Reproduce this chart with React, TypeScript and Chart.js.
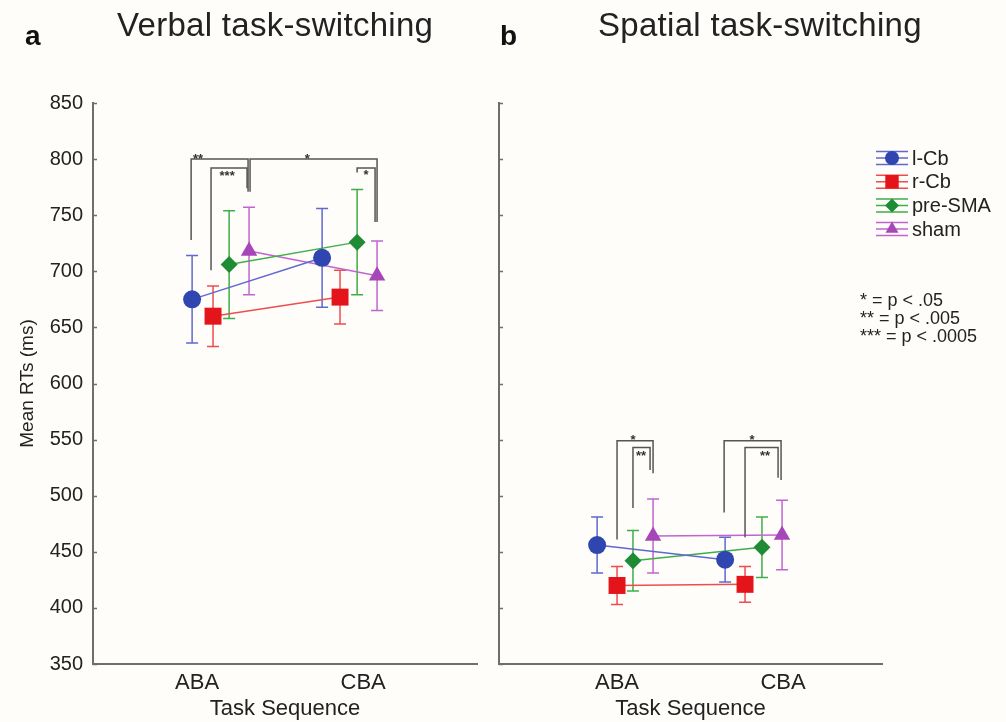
import React, { useEffect, useRef } from 'react';
import { Chart, registerables } from 'chart.js';

Chart.register(...registerables);

// ---------- data ----------
const seriesNames = ['l-Cb', 'r-Cb', 'pre-SMA', 'sham'];
const tickLabels = ['ABA', 'CBA'];
const tickValues = [1, 2];

// means per series: [ABA, CBA]
const verbalMeans = [[675, 712], [660, 677], [706, 726], [718, 696]];
const verbalErrors = [[39, 44], [27, 24], [48, 47], [39, 31]];
const verbalX = [[0.97, 1.753], [1.096, 1.861], [1.193, 1.964], [1.313, 2.084]];

const spatialMeans = [[456, 443], [420, 421], [442, 454], [464, 465]];
const spatialErrors = [[25, 20], [17, 16], [27, 27], [33, 31]];
const spatialX = [[0.88, 1.651], [1.0, 1.771], [1.096, 1.873], [1.217, 1.994]];

// significance brackets: x1, bottom1, x2, bottom2, top, label, labelX, labelY
const verbalBrackets = [
  { x1: 0.964, b1: 728, x2: 1.307, b2: 771, top: 800, label: '**', lx: 1.006, ly: 803 },
  { x1: 1.084, b1: 701, x2: 1.301, b2: 774, top: 792, label: '***', lx: 1.181, ly: 788 },
  { x1: 1.319, b1: 771, x2: 2.084, b2: 744, top: 800, label: '*', lx: 1.663, ly: 803 },
  { x1: 1.964, b1: 788, x2: 2.072, b2: 744, top: 792, label: '*', lx: 2.018, ly: 789 },
];
const spatialBrackets = [
  { x1: 1.0, b1: 461, x2: 1.217, b2: 520, top: 549, label: '*', lx: 1.096, ly: 553 },
  { x1: 1.096, b1: 489, x2: 1.199, b2: 523, top: 543, label: '**', lx: 1.145, ly: 539 },
  { x1: 1.645, b1: 485, x2: 1.988, b2: 514, top: 549, label: '*', lx: 1.813, ly: 553 },
  { x1: 1.771, b1: 463, x2: 1.970, b2: 516, top: 543, label: '**', lx: 1.892, ly: 539 },
];

const pNotes = ['* = p < .05', '** = p < .005', '*** = p < .0005'];

// ---------- styles ----------
const FONT = '"Liberation Sans", Arial, Helvetica, sans-serif';
const markerColors = ['#2f45b0', '#e3151b', '#1f8c35', '#a646b8'];
const lineColors = ['#5f69cf', '#ee4d4d', '#3fae4a', '#c065d0'];
const pointStyles = ['circle', 'rect', 'rectRot', 'triangle'];
const pointRadii = [9, 12, 8.5, 9.5];
const AXIS_COLOR = '#6e6e6e';
const TEXT_COLOR = '#222';

Chart.defaults.font.family = FONT;

function drawMarker(ctx: CanvasRenderingContext2D, style: string, x: number, y: number, r: number, color: string) {
  ctx.save();
  ctx.fillStyle = color;
  ctx.beginPath();
  if (style === 'circle') {
    ctx.arc(x, y, r, 0, Math.PI * 2);
  } else if (style === 'rect') {
    const s = r * Math.SQRT1_2;
    ctx.rect(x - s, y - s, 2 * s, 2 * s);
  } else if (style === 'rectRot') {
    ctx.moveTo(x - r, y);
    ctx.lineTo(x, y - r);
    ctx.lineTo(x + r, y);
    ctx.lineTo(x, y + r);
    ctx.closePath();
  } else {
    ctx.moveTo(x, y - r);
    ctx.lineTo(x + r * Math.sin((2 * Math.PI) / 3), y - r * Math.cos((2 * Math.PI) / 3));
    ctx.lineTo(x + r * Math.sin((4 * Math.PI) / 3), y - r * Math.cos((4 * Math.PI) / 3));
    ctx.closePath();
  }
  ctx.fill();
  ctx.restore();
}

const errorBarPlugin = {
  id: 'errorBars',
  beforeDatasetsDraw(chart: any) {
    const ctx = chart.ctx;
    const ys = chart.scales.y;
    chart.data.datasets.forEach((ds: any, i: number) => {
      const meta = chart.getDatasetMeta(i);
      ds.errors.forEach((e: number, j: number) => {
        const pt = meta.data[j];
        const v = ds.data[j].y;
        const yt = ys.getPixelForValue(v + e);
        const yb = ys.getPixelForValue(v - e);
        ctx.save();
        ctx.strokeStyle = ds.borderColor;
        ctx.lineWidth = 1.5;
        ctx.beginPath();
        ctx.moveTo(pt.x, yt);
        ctx.lineTo(pt.x, yb);
        ctx.moveTo(pt.x - 6, yt);
        ctx.lineTo(pt.x + 6, yt);
        ctx.moveTo(pt.x - 6, yb);
        ctx.lineTo(pt.x + 6, yb);
        ctx.stroke();
        ctx.restore();
      });
    });
  },
};

const innerTicksPlugin = {
  id: 'innerTicks',
  afterDraw(chart: any) {
    const ctx = chart.ctx;
    const ys = chart.scales.y;
    const left = chart.chartArea.left;
    ctx.save();
    ctx.strokeStyle = AXIS_COLOR;
    ctx.lineWidth = 1.5;
    ctx.beginPath();
    ys.ticks.forEach((t: any) => {
      const py = Math.round(ys.getPixelForValue(t.value)) + 0.5;
      ctx.moveTo(left, py);
      ctx.lineTo(left + 4, py);
    });
    ctx.stroke();
    ctx.restore();
  },
};

function makeBracketPlugin(brackets: typeof verbalBrackets) {
  return {
    id: 'brackets',
    afterDraw(chart: any) {
      const ctx = chart.ctx;
      const xs = chart.scales.x;
      const ys = chart.scales.y;
      ctx.save();
      ctx.strokeStyle = '#555';
      ctx.lineWidth = 1.5;
      ctx.fillStyle = '#333';
      ctx.font = `bold 13px ${FONT}`;
      ctx.textAlign = 'center';
      ctx.textBaseline = 'middle';
      brackets.forEach((b) => {
        ctx.beginPath();
        ctx.moveTo(xs.getPixelForValue(b.x1), ys.getPixelForValue(b.b1));
        ctx.lineTo(xs.getPixelForValue(b.x1), ys.getPixelForValue(b.top));
        ctx.lineTo(xs.getPixelForValue(b.x2), ys.getPixelForValue(b.top));
        ctx.lineTo(xs.getPixelForValue(b.x2), ys.getPixelForValue(b.b2));
        ctx.stroke();
        ctx.fillText(b.label, xs.getPixelForValue(b.lx), ys.getPixelForValue(b.ly) + 4);
      });
      ctx.restore();
    },
  };
}

function makeTextPlugin(letter: string, letterX: number, title: string, titleX: number, withLegend: boolean) {
  return {
    id: 'panelText',
    afterDraw(chart: any) {
      const ctx = chart.ctx;
      ctx.save();
      ctx.fillStyle = '#111';
      ctx.textAlign = 'left';
      ctx.textBaseline = 'alphabetic';
      ctx.font = `bold 28px ${FONT}`;
      ctx.fillText(letter, letterX, 45);
      ctx.fillStyle = TEXT_COLOR;
      ctx.font = `33px ${FONT}`;
      (ctx as any).letterSpacing = '0.3px';
      ctx.fillText(title, titleX, 36);
      (ctx as any).letterSpacing = '0px';
      if (withLegend) {
        // legend
        const lx = 405;
        seriesNames.forEach((name, i) => {
          const y = 158 + i * 23.7;
          ctx.strokeStyle = lineColors[i];
          ctx.lineWidth = 1.5;
          ctx.beginPath();
          [-6.5, 0, 6.5].forEach((dy) => {
            ctx.moveTo(lx - 16, y + dy);
            ctx.lineTo(lx + 16, y + dy);
          });
          ctx.stroke();
          drawMarker(ctx, pointStyles[i], lx, y, [7, 9.5, 7, 7.5][i], markerColors[i]);
          ctx.fillStyle = TEXT_COLOR;
          ctx.font = `20px ${FONT}`;
          ctx.textBaseline = 'middle';
          ctx.fillText(name, lx + 20, y + 1);
        });
        ctx.font = `18px ${FONT}`;
        pNotes.forEach((t, i) => {
          ctx.fillText(t, 373, 301 + i * 18);
        });
      }
      ctx.restore();
    },
  };
}

function buildConfig(
  means: number[][],
  errors: number[][],
  xs: number[][],
  xmin: number,
  xmax: number,
  showYLabels: boolean,
  padRight: number,
  yWidth: number,
  plugins: any[]
): any {
  const datasets = seriesNames.map((name, i) => ({
    label: name,
    data: means[i].map((m, j) => ({ x: xs[i][j], y: m })),
    errors: errors[i],
    showLine: true,
    borderColor: lineColors[i],
    borderWidth: 1.5,
    pointStyle: pointStyles[i],
    pointRadius: pointRadii[i],
    pointBackgroundColor: markerColors[i],
    pointBorderColor: markerColors[i],
    pointBorderWidth: 0,
    clip: false,
  }));
  return {
    type: 'scatter',
    data: { datasets },
    options: {
      responsive: false,
      animation: false,
      events: [],
      layout: { padding: { left: 0, right: padRight, top: 103, bottom: 0 } },
      plugins: { legend: { display: false }, tooltip: { enabled: false }, title: { display: false } },
      scales: {
        x: {
          type: 'linear',
          min: xmin,
          max: xmax,
          afterBuildTicks: (s: any) => {
            s.ticks = tickValues.map((v) => ({ value: v }));
          },
          afterFit: (s: any) => {
            s.height = 58;
          },
          grid: { display: true, drawOnChartArea: false, drawTicks: false, color: 'rgba(0,0,0,0)' },
          border: { display: true, color: AXIS_COLOR, width: 2 },
          ticks: {
            padding: 6,
            color: TEXT_COLOR,
            font: { size: 22, family: FONT },
            callback: (_v: any, idx: number) => tickLabels[idx],
          },
          title: {
            display: true,
            text: 'Task Sequence',
            color: TEXT_COLOR,
            font: { size: 22, family: FONT },
            padding: { top: 0, bottom: 0 },
          },
        },
        y: {
          type: 'linear',
          min: 350,
          max: 850,
          afterFit: (s: any) => {
            s.width = yWidth;
          },
          grid: { display: true, drawOnChartArea: false, drawTicks: false, color: 'rgba(0,0,0,0)' },
          border: { display: true, color: AXIS_COLOR, width: 2 },
          ticks: {
            display: showYLabels,
            stepSize: 50,
            padding: 10,
            color: TEXT_COLOR,
            font: { size: 20, family: FONT },
          },
          title: {
            display: showYLabels,
            text: 'Mean RTs (ms)',
            color: TEXT_COLOR,
            font: { size: 19, family: FONT },
            padding: { top: 16, bottom: 0 },
          },
        },
      },
    },
    plugins,
  };
}

export default function App() {
  const refA = useRef<HTMLCanvasElement>(null);
  const refB = useRef<HTMLCanvasElement>(null);

  useEffect(() => {
    const chartA = new Chart(
      refA.current as HTMLCanvasElement,
      buildConfig(verbalMeans, verbalErrors, verbalX, 0.373, 2.686, true, 13, 93, [
        errorBarPlugin,
        innerTicksPlugin,
        makeBracketPlugin(verbalBrackets),
        makeTextPlugin('a', 25, 'Verbal task-switching', 117, false),
      ])
    );
    const chartB = new Chart(
      refB.current as HTMLCanvasElement,
      buildConfig(spatialMeans, spatialErrors, spatialX, 0.289, 2.596, false, 124, 7, [
        errorBarPlugin,
        innerTicksPlugin,
        makeBracketPlugin(spatialBrackets),
        makeTextPlugin('b', 13, 'Spatial task-switching', 111, true),
      ])
    );
    return () => {
      chartA.destroy();
      chartB.destroy();
    };
  }, []);

  return (
    <div
      style={{
        position: 'fixed',
        left: 0,
        top: 0,
        width: 1006,
        height: 722,
        background: '#fefdfa',
        overflow: 'hidden',
      }}
    >
      <canvas ref={refA} width={490} height={722} style={{ position: 'absolute', left: 0, top: 0 }} />
      <canvas ref={refB} width={519} height={722} style={{ position: 'absolute', left: 487, top: 0 }} />
    </div>
  );
}
